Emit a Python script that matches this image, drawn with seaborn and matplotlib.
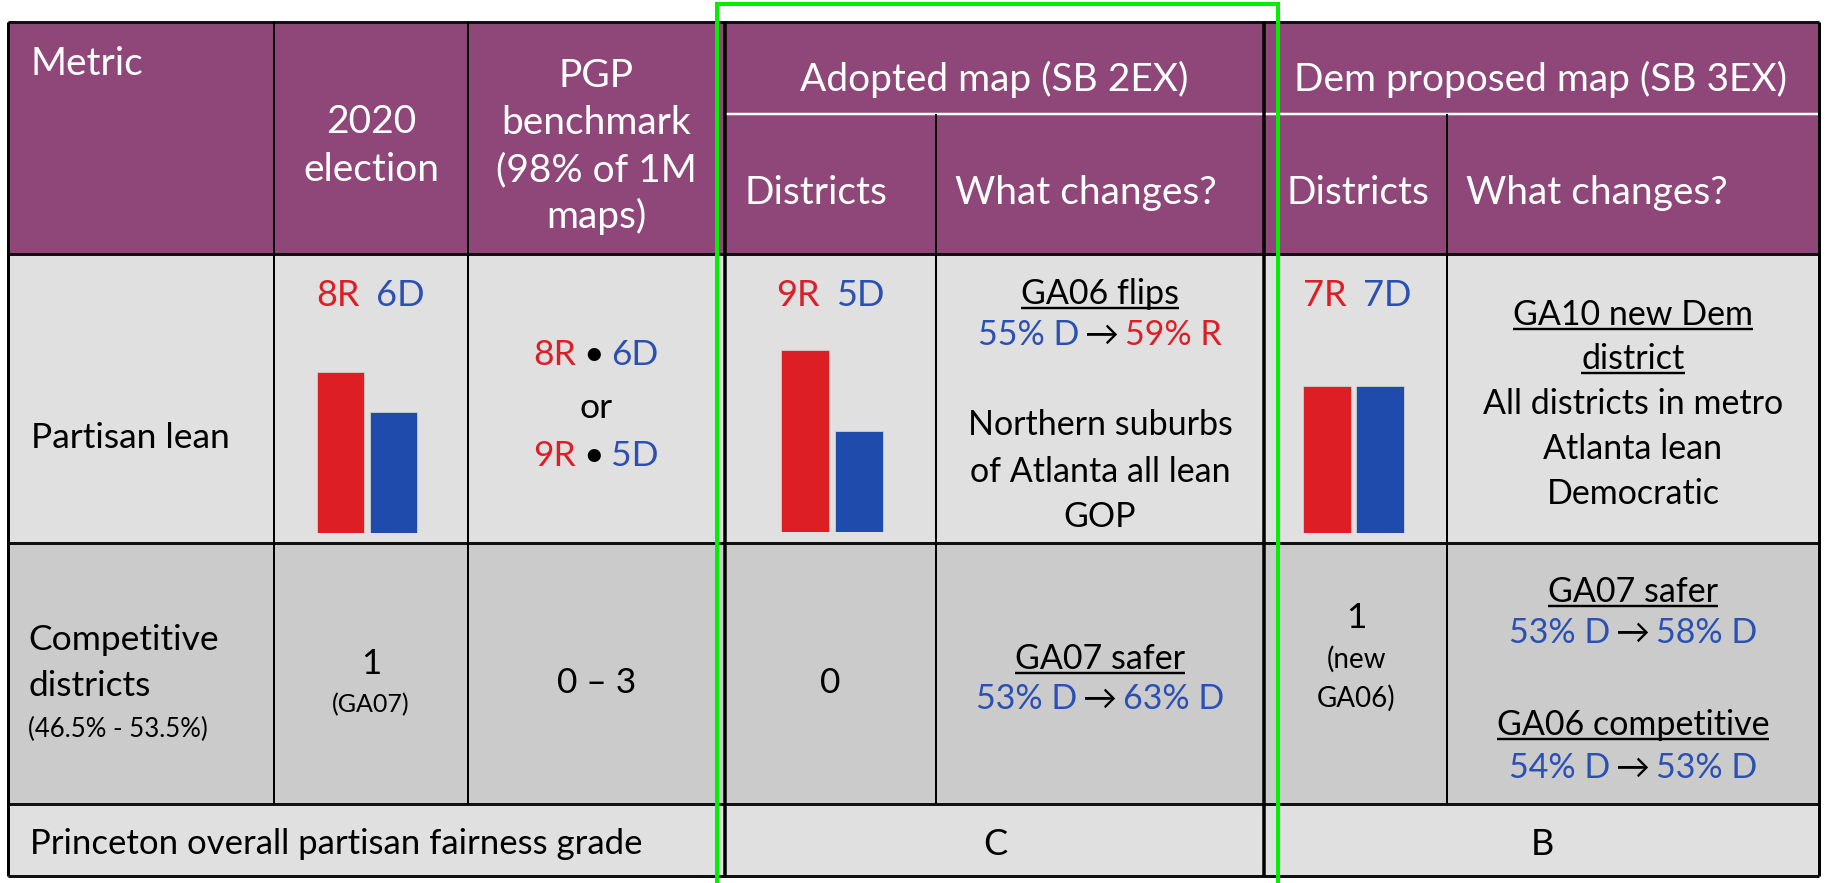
import matplotlib
matplotlib.use("Agg")
import matplotlib.pyplot as plt
import seaborn as sns
from matplotlib.patches import Rectangle

sns.set_theme(style="white")
plt.rcParams['font.family'] = ['Lato', 'DejaVu Sans']

# ---------------- data ----------------
parties = ["R", "D"]
seats_2020 = [8, 6]
seats_adopted = [9, 5]
seats_dem = [7, 7]
pgp_option_a = [8, 6]
pgp_option_b = [9, 5]
competitive_2020 = "1"
competitive_2020_note = "(GA07)"
competitive_pgp = "0 – 3"
competitive_adopted = "0"
competitive_dem = "1"
competitive_dem_note = ["(new", "GA06)"]
grade_adopted = "C"
grade_dem = "B"
ga06_adopted = [55, 59]   # D -> R
ga07_adopted = [53, 63]   # D -> D
ga07_dem = [53, 58]       # D -> D
ga06_dem = [54, 53]       # D -> D
metric_labels = ["Partisan lean", "Competitive", "districts", "(46.5% - 53.5%)",
                 "Princeton overall partisan fairness grade"]
header_metric = "Metric"
header_2020 = ["2020", "election"]
header_pgp = ["PGP", "benchmark", "(98% of 1M", "maps)"]
group_labels = ["Adopted map (SB 2EX)", "Dem proposed map (SB 3EX)"]
sub_labels = ["Districts", "What changes?"]
adopted_notes = ["Northern suburbs", "of Atlanta all lean", "GOP"]
dem_title = ["GA10 new Dem", "district"]
dem_notes = ["All districts in metro", "Atlanta lean", "Democratic"]

# ---------------- style ----------------
W, H = 1826, 883
PURPLE = "#8E4778"
LIGHT = "#E0E0E0"
MID = "#CBCBCB"
RED = "#DC1F26"
BLUE = "#2B50B4"
BAR_RED = "#DD1F25"
BAR_BLUE = "#1F4BAD"
GREEN = "#00F000"
PX = 0.72  # points per pixel at dpi 100

fig = plt.figure(figsize=(W / 100, H / 100), dpi=100)
ax = fig.add_axes([0, 0, 1, 1])
ax.set_xlim(0, W)
ax.set_ylim(H, 0)
ax.axis("off")
renderer = fig.canvas.get_renderer()

L, R, T, B = 8, 1819, 22, 876
ys = [T, 254, 543, 804, B]

# backgrounds
for (y0, y1), c in zip(zip(ys[:-1], ys[1:]), [PURPLE, LIGHT, MID, LIGHT]):
    ax.add_patch(Rectangle((L, y0), R - L, y1 - y0, color=c, lw=0, zorder=0))

def hline(y, x0, x1, c="black", w=3):
    ax.plot([x0, x1], [y, y], color=c, lw=w * PX, solid_capstyle="butt", zorder=3)

def vline(x, y0, y1, c="black", w=2):
    ax.plot([x, x], [y0, y1], color=c, lw=w * PX, solid_capstyle="butt", zorder=3)

hline(114, 725, R, "white", 2.5)
for y in ys:
    hline(y, L, R, "#111111", 3)
vline(L, T, B, w=3); vline(R, T, B, w=3)
vline(274, T, 804); vline(468, T, 804)
vline(725, T, B, w=3.5); vline(1264, T, B, w=3.5)
vline(936, 114, 804); vline(1447, 114, 804)

# green highlight box
ax.plot([717, 717, 1278, 1278], [H, 4, 4, H], color=GREEN, lw=4 * PX,
        solid_joinstyle="miter", zorder=5, clip_on=False)

def em(size):
    return size * 100 / 72

def txt(x, y, s, size=25, color="black", ha="center", underline=False):
    base = y + 0.358 * em(size)
    t = ax.text(x, base, s, fontsize=size, color=color, ha=ha, va="baseline", zorder=4)
    if underline:
        bb = t.get_window_extent(renderer)
        uy = base + 0.11 * em(size)
        ax.plot([bb.x0, bb.x1], [uy, uy], color=color, lw=2.4 * PX, zorder=4,
                solid_capstyle="butt")
    return t

def width(s, size):
    t = ax.text(0, 0, s, fontsize=size)
    w = t.get_window_extent(renderer).width
    t.remove()
    return w

def multi(xc, y, parts, size=25, gap=0.3):
    g = gap * em(size)
    ws = [width(s, size) for s, _ in parts]
    total = sum(ws) + g * (len(parts) - 1)
    x = xc - total / 2
    base = y + 0.358 * em(size)
    for (s, c), w in zip(parts, ws):
        ax.text(x, base, s, fontsize=size, color=c, ha="left", va="baseline", zorder=4)
        x += w + g

ARROW = "→"

def change(xc, y, vals, parties2, size=24):
    c0 = BLUE if parties2[0] == "D" else RED
    c1 = BLUE if parties2[1] == "D" else RED
    multi(xc, y, [(f"{vals[0]}% {parties2[0]}", c0), (ARROW, "black"),
                  (f"{vals[1]}% {parties2[1]}", c1)], size=size, gap=0.18)

HS = 28  # header size
BS = 24.5  # body size
SS = 26  # seat labels
# ---------------- header ----------------
txt(30, 61, header_metric, HS, "white", ha="left")
for s, y in zip(header_2020, [119, 167]):
    txt(371, y, s, HS, "white")
for s, y in zip(header_pgp, [73, 120, 167, 214]):
    txt(596, y, s, HS, "white")
txt(994, 77, group_labels[0], HS, "white")
txt(1541, 77, group_labels[1], HS, "white")
txt(745, 190, sub_labels[0], HS, "white", ha="left")
txt(955, 190, sub_labels[1], HS, "white", ha="left")
txt(1286, 190, sub_labels[0], HS, "white", ha="left")
txt(1466, 190, sub_labels[1], HS, "white", ha="left")

# ---------------- row 1: partisan lean ----------------
txt(31, 435, metric_labels[0], 25.5, ha="left")
multi(370, 293, [(f"{seats_2020[0]}R", RED), (f"{seats_2020[1]}D", BLUE)], SS, gap=0.45)
multi(830, 293, [(f"{seats_adopted[0]}R", RED), (f"{seats_adopted[1]}D", BLUE)], SS, gap=0.45)
multi(1357, 293, [(f"{seats_dem[0]}R", RED), (f"{seats_dem[1]}D", BLUE)], SS, gap=0.45)
multi(596, 352, [(f"{pgp_option_a[0]}R", RED), ("•", "black"), (f"{pgp_option_a[1]}D", BLUE)], 25.5, gap=0.2)
txt(596, 405, "or", 25.5)
multi(596, 453, [(f"{pgp_option_b[0]}R", RED), ("•", "black"), (f"{pgp_option_b[1]}D", BLUE)], 25.5, gap=0.2)

txt(1100, 292, "GA06 flips", BS, underline=True)
change(1100, 333, ga06_adopted, ["D", "R"], BS)
for s, y in zip(adopted_notes, [423, 470, 515]):
    txt(1100, y, s, BS)
for s, y in zip(dem_title, [313, 357]):
    txt(1633, y, s, BS, underline=True)
for s, y in zip(dem_notes, [402, 447, 492]):
    txt(1633, y, s, BS)

# bars (seaborn) in inset axes positioned within the cells
def bars(cx0, spacing, bottom, px_per_unit, seats):
    left = cx0 - spacing / 2
    w = 2 * spacing
    h = 10 * px_per_unit
    bax = fig.add_axes([left / W, (H - bottom) / H, w / W, h / H])
    sns.barplot(x=parties, y=seats, hue=parties, palette=[BAR_RED, BAR_BLUE],
                legend=False, width=0.9, saturation=1, ax=bax,
                edgecolor="#cfcfcf", linewidth=0.6)
    bax.set_xlim(-0.5, 1.5)
    bax.set_ylim(0, 10)
    bax.axis("off")
    bax.patch.set_alpha(0)

bars(340.5, 53, 533, 20.15, seats_2020)
bars(805, 54, 532, 20.2, seats_adopted)
bars(1327, 53, 533, 21.0, seats_dem)

# ---------------- row 2: competitive ----------------
txt(28, 637, metric_labels[1], 25.5, ha="left")
txt(28, 683, metric_labels[2], 25.5, ha="left")
txt(28, 728, metric_labels[3], 18.5, ha="left")
txt(371, 662, competitive_2020, 25)
txt(371, 703, competitive_2020_note, 18)
txt(597, 680, competitive_pgp, 25.5)
txt(830, 680, competitive_adopted, 25.5)
txt(1100, 657, "GA07 safer", BS, underline=True)
change(1100, 697, ga07_adopted, ["D", "D"], BS)
txt(1356, 615, competitive_dem, 25.5)
txt(1356, 658, competitive_dem_note[0], 20)
txt(1356, 697, competitive_dem_note[1], 20)
txt(1633, 590, "GA07 safer", BS, underline=True)
change(1633, 631, ga07_dem, ["D", "D"], BS)
txt(1633, 723, "GA06 competitive", BS, underline=True)
change(1633, 766, ga06_dem, ["D", "D"], BS)

# ---------------- row 3: grade ----------------
txt(30, 842, metric_labels[4], 25, ha="left")
txt(995, 842, grade_adopted, 26)
txt(1542, 842, grade_dem, 26)

fig.savefig("out.png", dpi=100)
